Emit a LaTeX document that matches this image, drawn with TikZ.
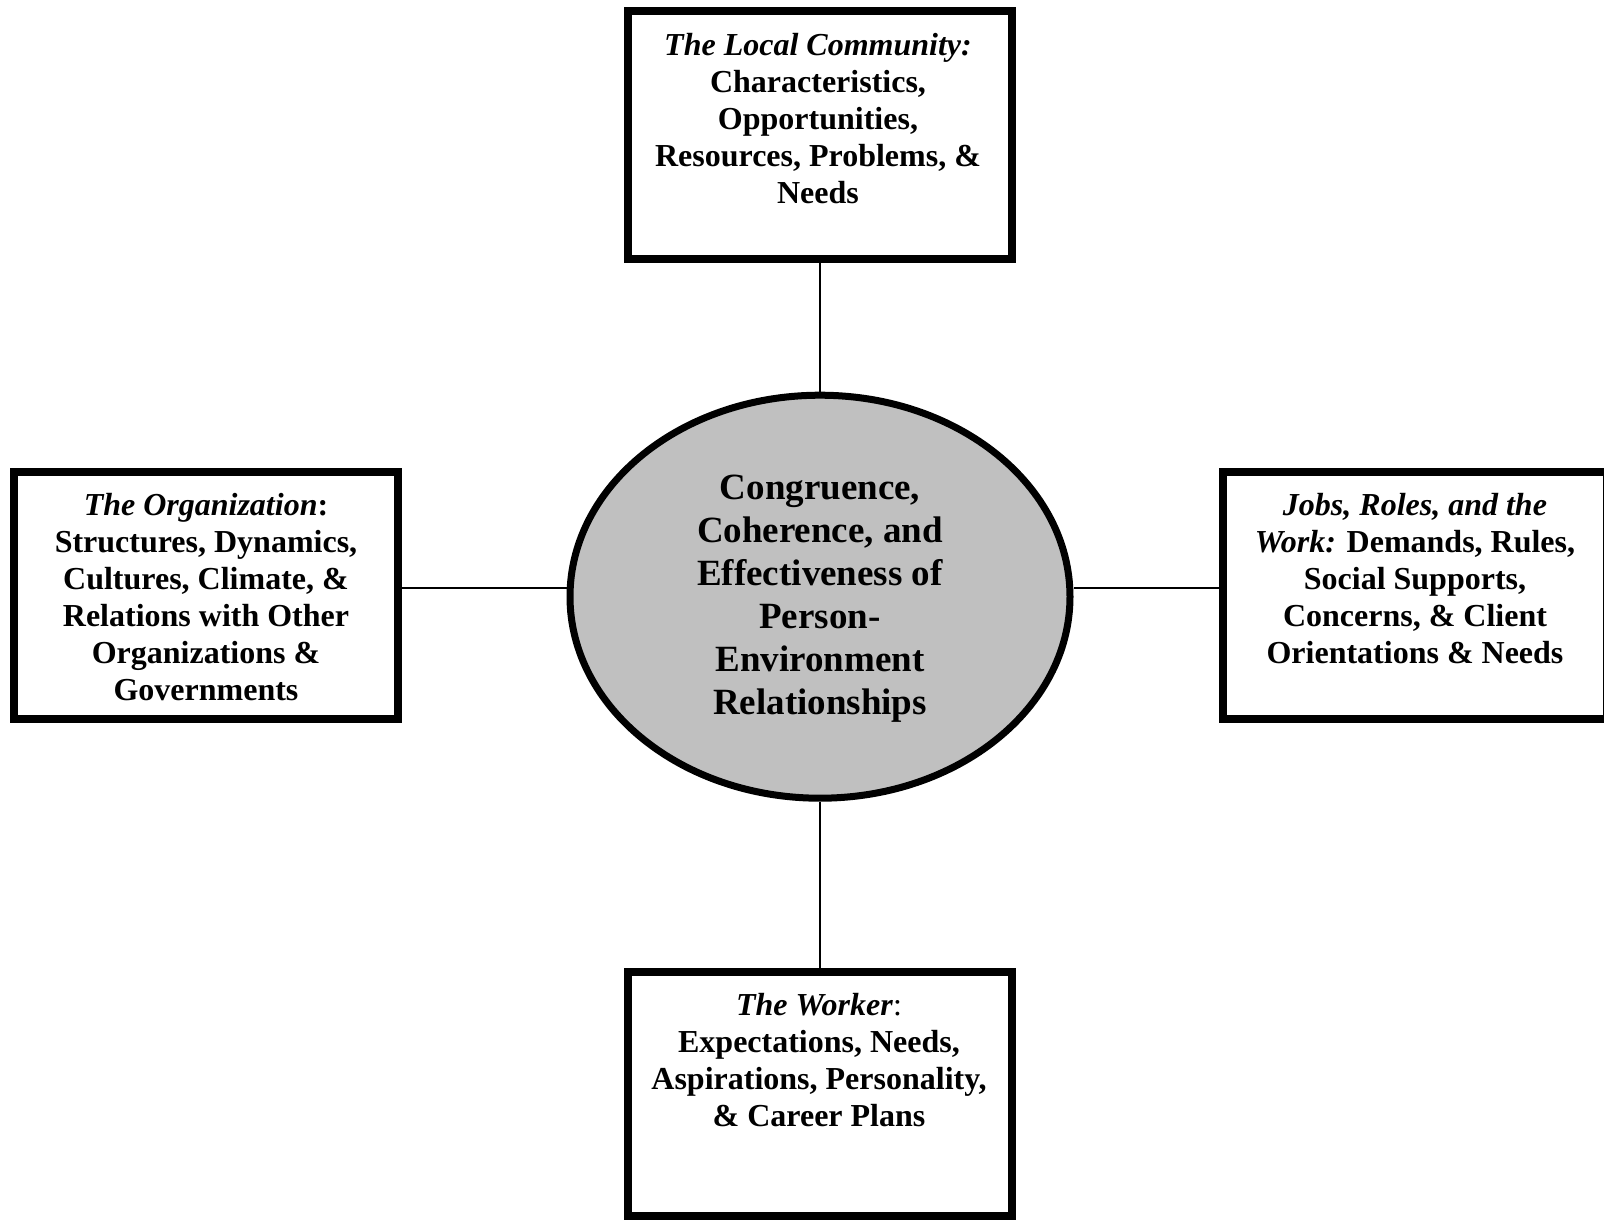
\documentclass[tikz,border=0pt]{standalone}
\usepackage{fontspec}
\setmainfont{Liberation Serif}
\usetikzlibrary{shapes.geometric}
\pgfdeclarelayer{background}
\pgfsetlayers{background,main}
\definecolor{ellgray}{RGB}{192,192,192}
\begin{document}
\begin{tikzpicture}[x=1pt,y=-1pt,
  boxnode/.style={draw,line width=8pt,rectangle,inner sep=0pt,minimum width=384pt},
  txt/.style={align=center,inner sep=0pt,anchor=north,font=\fontsize{32}{37}\selectfont\bfseries},
  conn/.style={line width=2pt}]
\useasboundingbox (0,0) rectangle (1604,1221);
\node[boxnode,minimum height=248pt] (top) at (820,135) {};
\node[boxnode,minimum height=247pt] (left) at (206,595.5) {};
\node[boxnode,minimum height=247pt] (right) at (1415,595.5) {};
\node[boxnode,minimum height=244pt] (bottom) at (820,1094) {};
\node[ellipse,draw,line width=7pt,fill=ellgray,inner sep=0pt,minimum width=500pt,minimum height=403pt] (ell) at (820,596.7) {};
\coordinate (hy) at (0,588);
\begin{pgfonlayer}{background}
\draw[conn] (top.south) -- (ell.north);
\draw[conn] (bottom.north) -- (ell.south);
\draw[conn] (left.east |- hy) -- (ell.west |- hy);
\draw[conn] (right.west |- hy) -- (ell.east |- hy);
\end{pgfonlayer}
\node[txt] (ttop) at (818,33) {\textit{The Local Community:}\\Characteristics,\\Opportunities,\\Resources, Problems, \&\\Needs};
\node[txt] (tleft) at (206,493) {\textit{The Organization}:\\Structures, Dynamics,\\Cultures, Climate, \&\\Relations with Other\\Organizations \&\\Governments};
\node[txt] (tright) at (1415,493) {\textit{Jobs, Roles, and the}\\\textit{Work:} Demands, Rules,\\Social Supports,\\Concerns, \& Client\\Orientations \& Needs};
\node[txt] (tbot) at (819,993) {\textit{The Worker}{\mdseries:}\\Expectations, Needs,\\Aspirations, Personality,\\\& Career Plans};
\node[txt,font=\fontsize{37}{43}\selectfont\bfseries] (tell) at (820,475) {Congruence,\\Coherence, and\\Effectiveness of\\Person-\\Environment\\Relationships};
\end{tikzpicture}
\end{document}
